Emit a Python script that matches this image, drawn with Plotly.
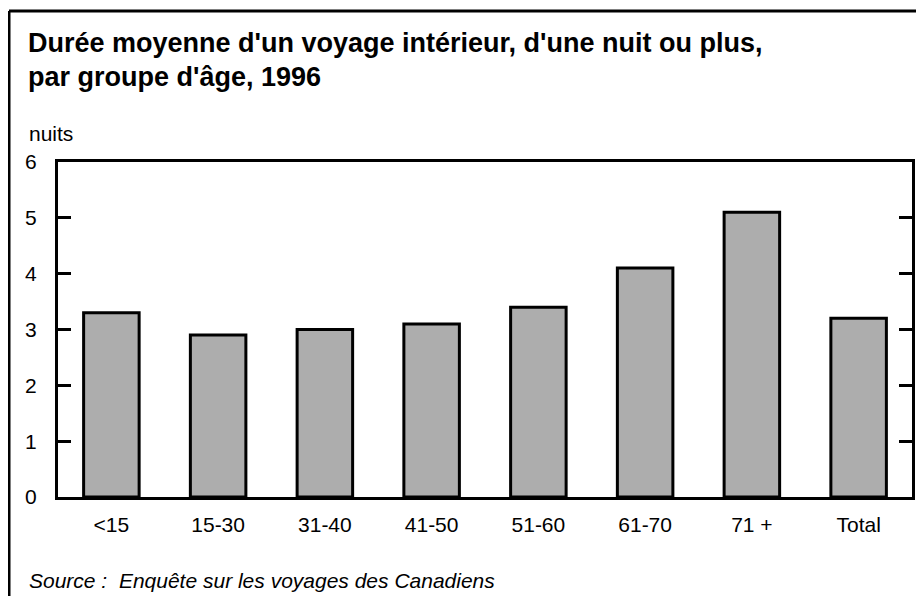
import plotly.graph_objects as go

categories = ["<15", "15-30", "31-40", "41-50", "51-60", "61-70", "71 +", "Total"]
values = [3.3, 2.9, 3.0, 3.1, 3.4, 4.1, 5.1, 3.2]
y_ticks = [0, 1, 2, 3, 4, 5, 6]

title_lines = ["Durée moyenne d'un voyage intérieur, d'une nuit ou plus,", "par groupe d'âge, 1996"]
unit_label = "nuits"
source_text = "Source :  Enquête sur les voyages des Canadiens"

OFF = 8  # page body margin
W, H = 916, 588
L, R, T, B = 50, 12, 154, 99
pw, ph = W - L - R, H - T - B

def px(x):
    return (x - OFF - L) / pw

def py(y):
    return (H - B - (y - OFF)) / ph

font = "Liberation Sans, Arial, sans-serif"

fig = go.Figure(go.Bar(
    x=categories, y=values, width=0.52,
    marker=dict(color="#adadad", line=dict(color="#000000", width=3)),
))

fig.update_layout(
    width=W, height=H,
    margin=dict(l=L, r=R, t=T, b=B, autoexpand=False),
    paper_bgcolor="white", plot_bgcolor="white",
    showlegend=False,
    font=dict(family=font, size=21, color="#000"),
    xaxis=dict(showline=True, linewidth=3, linecolor="#000", mirror=True,
               ticks="", showgrid=False, ticklabelstandoff=7,
               tickfont=dict(size=21)),
    yaxis=dict(range=[0, 6], tickvals=y_ticks, showline=True, linewidth=3,
               linecolor="#000", mirror="ticks", ticks="inside", ticklen=13,
               tickwidth=3, tickcolor="#000", showgrid=False, zeroline=False,
               ticklabelstandoff=14, tickfont=dict(size=21)),
    annotations=[
        dict(text="<b>" + title_lines[0] + "</b>", x=px(26), y=py(43), xref="paper", yref="paper",
             xanchor="left", yanchor="middle", showarrow=False, font=dict(size=27, family=font)),
        dict(text="<b>" + title_lines[1] + "</b>", x=px(26), y=py(77), xref="paper", yref="paper",
             xanchor="left", yanchor="middle", showarrow=False, font=dict(size=27, family=font)),
        dict(text=unit_label, x=px(27), y=py(133), xref="paper", yref="paper",
             xanchor="left", yanchor="middle", showarrow=False, font=dict(size=21, family=font)),
        dict(text="<i>" + source_text + "</i>", x=px(27), y=py(580), xref="paper", yref="paper",
             xanchor="left", yanchor="middle", showarrow=False, font=dict(size=21, family=font)),
    ],
    shapes=[
        dict(type="line", xref="paper", yref="paper", x0=px(9), x1=px(940), y0=py(11), y1=py(11),
             line=dict(color="#000", width=3)),
        dict(type="line", xref="paper", yref="paper", x0=px(9), x1=px(9), y0=py(11), y1=py(620),
             line=dict(color="#000", width=3)),
    ],
)

fig.write_html("out.html")
